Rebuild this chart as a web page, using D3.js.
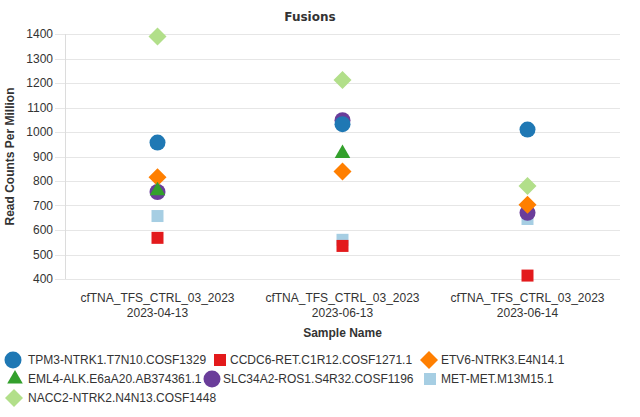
<!DOCTYPE html>
<html>
<head>
<meta charset="utf-8">
<script src="https://cdn.jsdelivr.net/npm/d3@7"></script>
<style>
  body { margin: 0; background: #fff; }
  svg { display: block; font-family: "Liberation Sans", Arial, sans-serif; }
</style>
</head>
<body>
<div id="chart"></div>
<script>
// data
const categories = ["cfTNA_TFS_CTRL_03_2023|2023-04-13", "cfTNA_TFS_CTRL_03_2023|2023-06-13", "cfTNA_TFS_CTRL_03_2023|2023-06-14"];
const seriesNames = [
  "TPM3-NTRK1.T7N10.COSF1329", "CCDC6-RET.C1R12.COSF1271.1", "ETV6-NTRK3.E4N14.1",
  "EML4-ALK.E6aA20.AB374361.1", "SLC34A2-ROS1.S4R32.COSF1196", "MET-MET.M13M15.1",
  "NACC2-NTRK2.N4N13.COSF1448"
];
const tpm3 = [957, 1032, 1010];
const ccdc6 = [568, 535, 414];
const etv6 = [815, 839, 703];
const eml4 = [760, 912, null];
const slc34a2 = [755, 1048, 670];
const metMet = [657, 560, 645];
const nacc2 = [1390, 1212, 780];
const yTicks = [400, 500, 600, 700, 800, 900, 1000, 1100, 1200, 1300, 1400];

const seriesValues = [tpm3, ccdc6, etv6, eml4, slc34a2, metMet, nacc2];
const colors = ["#1f78b4", "#e31a1c", "#ff7f00", "#33a02c", "#6a3d9a", "#a6cee3", "#b2df8a"];
const shapes = ["circle", "square", "diamond", "triangle", "circle", "square", "diamond"];
// drawing order so that overlaps look like the original
const drawOrder = [6, 5, 4, 1, 0, 2, 3];

const W = 640, H = 417;
const margin = { top: 34, right: 20, bottom: 138, left: 65 };

// legend layout (flowing rows, like the original)
const legendSymX = [13, 220, 429, 15, 212, 430, 14];
const legendTextX = [28, 230, 441, 28, 223, 441, 28];
const legendRowY = [360, 379, 398];

const svg = d3.select("#chart").append("svg").attr("width", W).attr("height", H);

const x = d3.scaleBand().domain(categories).range([margin.left, W - margin.right]).padding(0);
const y = d3.scaleLinear().domain([400, 1400]).range([H - margin.bottom, margin.top]);

function symbolPath(shape) {
  if (shape === "circle") return d3.symbol(d3.symbolCircle, Math.PI * 64)();
  if (shape === "square") return d3.symbol(d3.symbolSquare, 144)();
  if (shape === "triangle") return d3.symbol(d3.symbolTriangle, 105)();
  return d3.symbol(d3.symbolSquare, 162)();
}
function symbolRotate(shape) { return shape === "diamond" ? " rotate(45)" : ""; }

// title
svg.append("text").attr("x", 310).attr("y", 21).attr("text-anchor", "middle")
  .style("font-family", "'DejaVu Sans', Verdana, sans-serif")
  .attr("font-size", 12).attr("font-weight", "bold").attr("fill", "#333").text("Fusions");

// grid + y axis
const grid = svg.append("g");
grid.selectAll("line").data(yTicks).join("line")
  .attr("x1", margin.left - 10).attr("x2", W - margin.right)
  .attr("y1", d => Math.round(y(d)) + 0.5).attr("y2", d => Math.round(y(d)) + 0.5)
  .attr("stroke", "#e6e6e6");
svg.append("line").attr("x1", margin.left + 0.5).attr("x2", margin.left + 0.5)
  .attr("y1", y(1400)).attr("y2", y(400)).attr("stroke", "#dcdcdc");
svg.append("g").selectAll("text").data(yTicks).join("text")
  .attr("x", margin.left - 12).attr("y", d => y(d) + 4)
  .attr("text-anchor", "end").attr("font-size", 12).attr("fill", "#333").text(d => d);

svg.append("text").attr("transform", `translate(14,${(y(400) + y(1400)) / 2}) rotate(-90)`)
  .attr("text-anchor", "middle").attr("font-size", 12).attr("font-weight", "bold").attr("fill", "#333")
  .text("Read Counts Per Million");

// x labels
const xl = svg.append("g").selectAll("text").data(categories).join("text")
  .attr("x", d => x(d) + x.bandwidth() / 2).attr("y", 302)
  .attr("text-anchor", "middle").attr("font-size", 12).attr("fill", "#333");
xl.append("tspan").attr("x", d => x(d) + x.bandwidth() / 2).text(d => d.split("|")[0]);
xl.append("tspan").attr("x", d => x(d) + x.bandwidth() / 2).attr("dy", 15).text(d => d.split("|")[1]);

svg.append("text").attr("x", (margin.left + W - margin.right) / 2).attr("y", 337)
  .attr("text-anchor", "middle").attr("font-size", 12).attr("font-weight", "bold").attr("fill", "#333")
  .text("Sample Name");

// points
drawOrder.forEach(si => {
  const pts = seriesValues[si].map((v, i) => ({ v, c: categories[i] })).filter(d => d.v != null);
  svg.append("g").selectAll("path").data(pts).join("path")
    .attr("d", symbolPath(shapes[si]))
    .attr("transform", d => `translate(${x(d.c) + x.bandwidth() / 2},${y(d.v)})${symbolRotate(shapes[si])}`)
    .attr("fill", colors[si]);
});

// legend
const legend = svg.append("g").selectAll("g").data(seriesNames).join("g")
  .attr("transform", (d, i) => `translate(0,${legendRowY[Math.floor(i / 3)]})`);
legend.append("path")
  .attr("d", (d, i) => shapes[i] === "circle" ? d3.symbol(d3.symbolCircle, Math.PI * 72)() : symbolPath(shapes[i]))
  .attr("transform", (d, i) => `translate(${legendSymX[i]},0)` + symbolRotate(shapes[i]))
  .attr("fill", (d, i) => colors[i]);
legend.append("text").attr("x", (d, i) => legendTextX[i]).attr("y", 4)
  .attr("font-size", 12).attr("fill", "#333").text(d => d);
</script>
</body>
</html>
